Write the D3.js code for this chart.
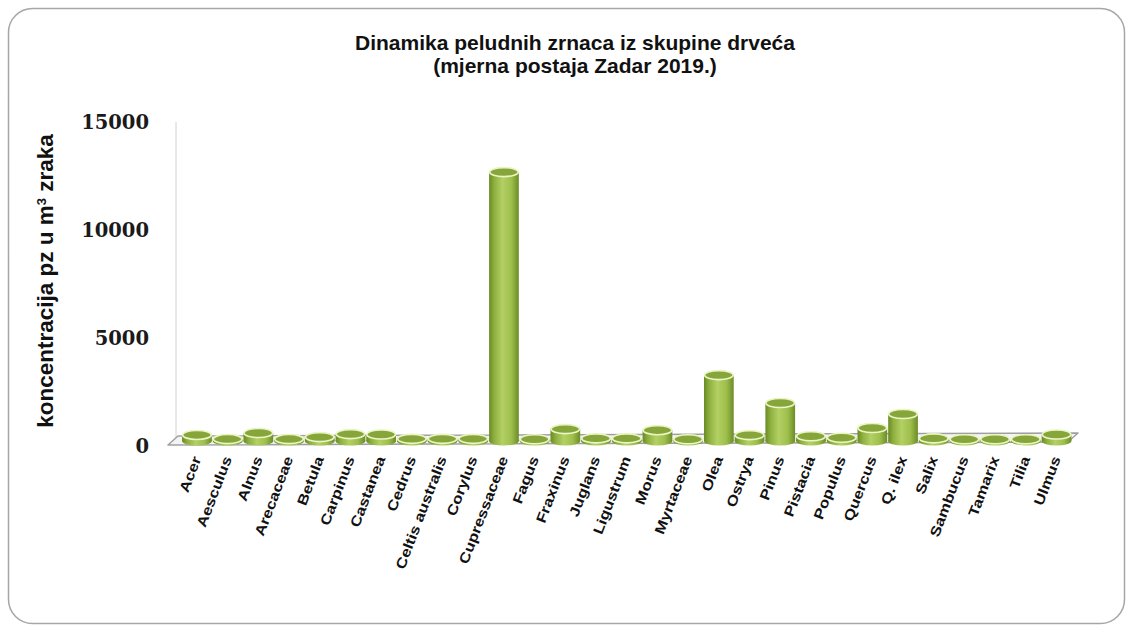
<!DOCTYPE html>
<html>
<head lang="hr">
    <meta charset="UTF-8">
    <title>Dinamika peludnih zrnaca</title>
    <script type="text/javascript" src="https://cdn.jsdelivr.net/npm/d3@7"></script>
    <style>
        body { margin: 0; background: #fff; }
    </style>
</head>
<body>
<svg id="mainSvg"></svg>
<script>
    var w = 1133, h = 632;

    var categories = ["Acer", "Aesculus", "Alnus", "Arecaceae", "Betula", "Carpinus", "Castanea", "Cedrus",
        "Celtis australis", "Corylus", "Cupressaceae", "Fagus", "Fraxinus", "Juglans", "Ligustrum", "Morus",
        "Myrtaceae", "Olea", "Ostrya", "Pinus", "Pistacia", "Populus", "Quercus", "Q. ilex", "Salix",
        "Sambucus", "Tamarix", "Tilia", "Ulmus"];
    var values = [280, 90, 370, 90, 180, 320, 300, 100,
        100, 100, 12450, 80, 550, 120, 120, 500,
        80, 3050, 270, 1760, 220, 150, 600, 1250, 120,
        80, 80, 80, 300];
    var yTicks = [0, 5000, 10000, 15000];
    var titleLines = ["Dinamika peludnih zrnaca iz skupine drveća", "(mjerna postaja Zadar 2019.)"];

    var svg = d3.select("#mainSvg").attr("width", w).attr("height", h);

    // frame
    svg.append("rect")
            .attr("x", 8.5).attr("y", 8.5)
            .attr("width", w - 17).attr("height", h - 17)
            .attr("rx", 24).attr("ry", 24)
            .attr("fill", "#fff")
            .attr("stroke", "#a6a6a6")
            .attr("stroke-width", 1.5);

    var x = d3.scaleBand().domain(categories).range([181.6, 1071.9]).padding(0);
    var y = d3.scaleLinear().domain([0, 15000]).range([446, 122]);

    var lift = 5;          // bar base sits this far above the front of the floor
    var rx = x.bandwidth() / 2 - 0.5, ry = 4.5;

    var defs = svg.append("defs");
    var grad = defs.append("linearGradient").attr("id", "cyl")
            .attr("x1", "0%").attr("x2", "100%").attr("y1", "0%").attr("y2", "0%");
    grad.append("stop").attr("offset", "0%").attr("stop-color", "#6a8a24");
    grad.append("stop").attr("offset", "18%").attr("stop-color", "#8fb13f");
    grad.append("stop").attr("offset", "45%").attr("stop-color", "#b3d064");
    grad.append("stop").attr("offset", "75%").attr("stop-color", "#9ebf4c");
    grad.append("stop").attr("offset", "100%").attr("stop-color", "#6c8c27");

    // left wall edge
    svg.append("line")
            .attr("x1", 176).attr("x2", 176)
            .attr("y1", y(15000)).attr("y2", y(0) - 8)
            .attr("stroke", "#d0d0d0").attr("stroke-width", 1);

    // floor
    var fx0 = 168, fx1 = 1068, dx = 10, dy = -9;
    svg.append("polygon")
            .attr("points", [[fx0, y(0) - 1], [fx1, y(0) - 4], [fx1 + dx, y(0) - 4 + dy], [fx0 + dx, y(0) - 1 + dy]].join(" "))
            .attr("fill", "#f4f4f4")
            .attr("stroke", "#a0a0a0")
            .attr("stroke-width", 1.5)
            .attr("stroke-linejoin", "round");

    var bars = svg.selectAll("g.bar")
            .data(values)
            .enter()
            .append("g")
            .attr("class", "bar")
            .attr("transform", function (d, i) {
                return "translate(" + (x(categories[i]) + x.bandwidth() / 2) + ",0)";
            });

    bars.append("ellipse")
            .attr("cx", 0).attr("cy", y(0) - lift)
            .attr("rx", rx).attr("ry", ry)
            .attr("fill", "url(#cyl)");

    bars.append("rect")
            .attr("x", -rx)
            .attr("y", function (d) { return y(d) - lift; })
            .attr("width", rx * 2)
            .attr("height", function (d) { return y(0) - y(d); })
            .attr("fill", "url(#cyl)");

    bars.append("ellipse")
            .attr("cx", 0)
            .attr("cy", function (d) { return y(d) - lift; })
            .attr("rx", rx - 0.5).attr("ry", ry)
            .attr("fill", "#86a53a")
            .attr("stroke", "#eaf5c4")
            .attr("stroke-width", 1.6);

    // y axis
    var yAxis = svg.append("g")
            .attr("transform", "translate(149,0)")
            .call(d3.axisLeft(y).tickValues(yTicks).tickSize(0).tickPadding(0).tickFormat(d3.format("d")));
    yAxis.select(".domain").remove();
    yAxis.selectAll("text")
            .attr("font-family", "DejaVu Serif")
            .attr("font-weight", "bold")
            .attr("font-size", 19.5)
            .attr("fill", "#1a1a1a");

    // x axis (labels stretched along the baseline, as in the 3D original)
    var xAxis = svg.append("g")
            .attr("transform", "translate(0," + (y(0) + 9) + ")")
            .call(d3.axisBottom(x).tickSize(0).tickPadding(0));
    xAxis.select(".domain").remove();
    xAxis.selectAll("text")
            .attr("font-family", "Liberation Sans")
            .attr("font-weight", "bold")
            .attr("font-size", 14)
            .attr("fill", "#111")
            .attr("text-anchor", "end")
            .attr("dy", "0.72em")
            .attr("transform", "translate(-5,0) rotate(-69) scale(1.2,1)");

    // y axis title
    svg.append("text")
            .attr("transform", "translate(53,281) rotate(-90)")
            .attr("text-anchor", "middle")
            .attr("font-family", "Liberation Sans")
            .attr("font-weight", "bold")
            .attr("font-size", 22.5)
            .attr("fill", "#111")
            .text("koncentracija pz u m")
            .append("tspan").attr("baseline-shift", "super").attr("font-size", 13).text("3")
            .select(function () { return this.parentNode; })
            .append("tspan").text(" zraka");

    // title
    svg.selectAll("text.title")
            .data(titleLines)
            .enter()
            .append("text")
            .attr("class", "title")
            .attr("x", 575)
            .attr("y", function (d, i) { return 50 + i * 23; })
            .attr("text-anchor", "middle")
            .attr("font-family", "Liberation Sans")
            .attr("font-weight", "bold")
            .attr("font-size", 21)
            .attr("fill", "#111")
            .text(function (d) { return d; });
</script>
</body>
</html>
